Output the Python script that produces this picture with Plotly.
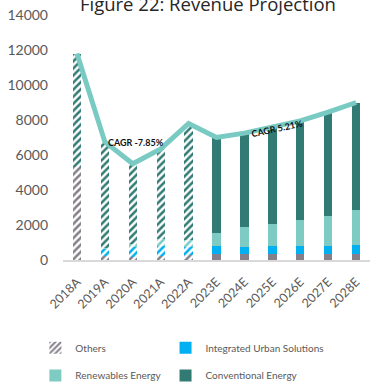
import plotly.graph_objects as go

years = ["2018A", "2019A", "2020A", "2021A", "2022A", "2023E", "2024E", "2025E", "2026E", "2027E", "2028E"]
others = [5300, 250, 150, 250, 300, 350, 350, 350, 350, 350, 350]
urban = [0, 390, 580, 540, 430, 440, 380, 440, 440, 440, 520]
renew = [0, 60, 190, 410, 400, 730, 1130, 1260, 1490, 1750, 1980]
conv = [6500, 6050, 4580, 5150, 6670, 5480, 5390, 5550, 5670, 5910, 6150]
total = [11800, 6750, 5500, 6350, 7800, 7000, 7250, 7600, 7950, 8450, 9000]
n_hist = 5

series = [
    ("Others", others, "#857F89", "legend"),
    ("Integrated Urban Solutions", urban, "#00B0F0", "legend2"),
    ("Renewables Energy", renew, "#7ECBC4", "legend3"),
    ("Conventional Energy", conv, "#317B74", "legend4"),
]

fig = go.Figure()
for name, vals, col, leg in series:
    # historical (patterned)
    fig.add_trace(go.Bar(
        x=years[:n_hist], y=vals[:n_hist], name=name, legend=leg,
        showlegend=(name == "Others"),
        marker=dict(color="white", line=dict(width=0),
                    pattern=dict(shape="/", fgcolor=col, bgcolor="white",
                                 size=5, solidity=0.5, fillmode="replace", fgopacity=1)),
    ))
    # projected (solid)
    fig.add_trace(go.Bar(
        x=years[n_hist:], y=vals[n_hist:], name=name, legend=leg,
        showlegend=(name != "Others"),
        marker=dict(color=col, line=dict(width=0)),
    ))

fig.add_trace(go.Scatter(
    x=years, y=total, mode="lines", showlegend=False,
    line=dict(color="#79CAC2", width=5),
))

fig.add_annotation(x=2.13, y=6720, text="<b>CAGR -7.85%</b>", showarrow=False,
                   font=dict(size=9, color="#111111", family="Lato"))
fig.add_annotation(x=7.15, y=7520, text="<b>CAGR 5.21%</b>", showarrow=False,
                   textangle=-12, font=dict(size=9, color="#111111", family="Lato"))

legend_common = dict(orientation="h", xanchor="left", yanchor="middle",
                     font=dict(size=10, color="#595959"), itemwidth=30,
                     traceorder="normal", bgcolor="rgba(0,0,0,0)")
col1_x, col2_x = -0.09, 0.334
row1_y, row2_y = -0.358, -0.474

fig.update_layout(
    width=370, height=390,
    margin=dict(l=63, r=0, t=15, b=127),
    barmode="stack", bargap=0.7,
    plot_bgcolor="white", paper_bgcolor="white",
    font=dict(family="Lato", color="#595959"),
    title=dict(text="Figure 22: Revenue Projection", x=0.562, xanchor="center",
               y=0.989, yanchor="middle", font=dict(size=18.5, color="#262626", family="Open Sans")),
    xaxis=dict(type="category", tickangle=-45, tickfont=dict(size=12.5, color="#595959"),
               showline=True, linecolor="#D9D9D9", linewidth=1.5, ticks="", showgrid=False,
               ticklabelstandoff=8),
    yaxis=dict(range=[0, 14000], dtick=2000, tickformat="d", showgrid=False, zeroline=False,
               tickfont=dict(size=14, color="#595959"), ticks="", showline=False,
               ticklabelstandoff=14),
    legend=dict(x=col1_x, y=row1_y, **legend_common),
    legend2=dict(x=col2_x, y=row1_y, **legend_common),
    legend3=dict(x=col1_x, y=row2_y, **legend_common),
    legend4=dict(x=col2_x, y=row2_y, **legend_common),
)

fig.write_html("out.html")
